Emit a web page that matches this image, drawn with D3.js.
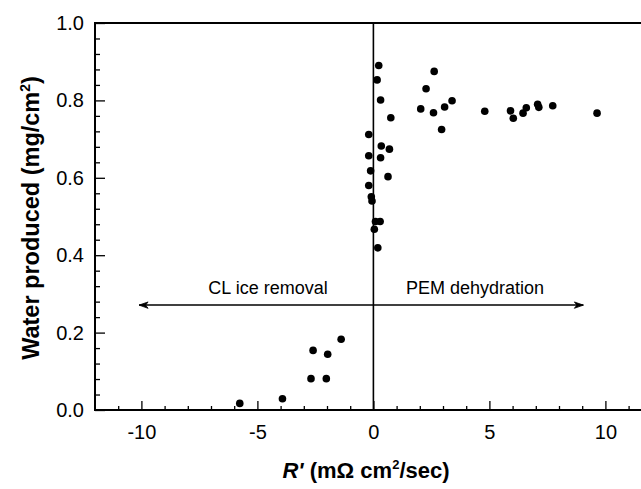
<!DOCTYPE html>
<html><head><meta charset="utf-8">
<script src="https://cdn.jsdelivr.net/npm/d3@7"></script>
<style>body{margin:0;background:#fff}svg{display:block}</style>
</head><body>
<svg id="c" width="641" height="489"></svg>
<script>
const ptsX = [0.23,0.16,0.31,0.75,-0.20,0.34,0.69,-0.20,0.31,-0.12,0.63,-0.20,-0.09,-0.06,0.09,0.29,0.04,0.19,
  2.62,2.27,3.39,3.07,2.04,2.59,2.94,4.80,5.91,6.03,6.45,6.59,7.08,7.13,7.73,9.64,
  -5.76,-3.92,-2.69,-2.03,-2.60,-1.97,-1.39];
const ptsY = [0.890,0.853,0.801,0.755,0.712,0.682,0.674,0.657,0.652,0.618,0.603,0.580,0.551,0.540,0.487,0.487,0.467,0.419,
  0.875,0.830,0.799,0.783,0.778,0.768,0.725,0.772,0.773,0.754,0.767,0.781,0.790,0.782,0.786,0.767,
  0.017,0.029,0.081,0.081,0.154,0.144,0.183];
const xMajor = [-10,-5,0,5,10];
const xMinor = [-11,-9,-8,-7,-6,-4,-3,-2,-1,1,2,3,4,6,7,8,9,11];
const yMajor = [0,0.2,0.4,0.6,0.8,1.0];
const yMinor = [0.04,0.08,0.12,0.16,0.24,0.28,0.32,0.36,0.44,0.48,0.52,0.56,0.64,0.68,0.72,0.76,0.84,0.88,0.92,0.96];
const arrowY = 0.271, arrowFrom = -10.1, arrowTo = 9.05;
const labelLeft = "CL ice removal", labelRight = "PEM dehydration";

const svg = d3.select("#c");
const x = d3.scaleLinear().domain([-12,12]).range([95,651.8]);
const y = d3.scaleLinear().domain([0,1]).range([410,23]);
const font = "'Liberation Sans', Arial, sans-serif";

// minor ticks
svg.append("g").attr("transform","translate(0,410)")
  .call(d3.axisBottom(x).tickValues(xMinor).tickSize(-4).tickFormat(""))
  .call(g=>g.select(".domain").remove())
  .selectAll("line").attr("stroke","#000").attr("stroke-width",1.3);
svg.append("g").attr("transform","translate(95,0)")
  .call(d3.axisLeft(y).tickValues(yMinor).tickSize(-5).tickFormat(""))
  .call(g=>g.select(".domain").remove())
  .selectAll("line").attr("stroke","#000").attr("stroke-width",1.3);
// major ticks
const xa = svg.append("g").attr("transform","translate(0,410)")
  .call(d3.axisBottom(x).tickValues(xMajor).tickSize(-9).tickPadding(15).tickFormat(d=>String(d)));
xa.select(".domain").remove();
xa.selectAll("line").attr("stroke","#000").attr("stroke-width",1.3);
xa.selectAll("text").attr("font-family",font).attr("font-size",20).attr("fill","#000");
const ya = svg.append("g").attr("transform","translate(95,0)")
  .call(d3.axisLeft(y).tickValues(yMajor).tickSize(-10).tickPadding(11).tickFormat(d=>d.toFixed(1)));
ya.select(".domain").remove();
ya.selectAll("line").attr("stroke","#000").attr("stroke-width",1.3);
ya.selectAll("text").attr("font-family",font).attr("font-size",20).attr("fill","#000");

// frame
svg.append("line").attr("x1",95).attr("x2",641).attr("y1",y(0)).attr("y2",y(0)).attr("stroke","#000").attr("stroke-width",2);
svg.append("line").attr("x1",95).attr("x2",641).attr("y1",y(1)).attr("y2",y(1)).attr("stroke","#000").attr("stroke-width",2);
svg.append("line").attr("x1",95).attr("x2",95).attr("y1",y(0)+1).attr("y2",y(1)-1).attr("stroke","#000").attr("stroke-width",2);

// vertical divider
svg.append("line").attr("x1",x(0)).attr("x2",x(0)).attr("y1",y(0)).attr("y2",y(1)).attr("stroke","#000").attr("stroke-width",1.6);
// arrow line
const ay = y(arrowY);
svg.append("line").attr("x1",x(arrowFrom)).attr("x2",x(arrowTo)).attr("y1",ay).attr("y2",ay).attr("stroke","#000").attr("stroke-width",1.5);
const xl = x(arrowFrom), xr = x(arrowTo);
svg.append("path").attr("d",`M${xl},${ay} L${xl+9},${ay-3.2} L${xl+6.5},${ay} L${xl+9},${ay+3.2} Z`).attr("fill","#000").attr("stroke","#000").attr("stroke-width",0.8);
svg.append("path").attr("d",`M${xr},${ay} L${xr-9},${ay-3.2} L${xr-6.5},${ay} L${xr-9},${ay+3.2} Z`).attr("fill","#000").attr("stroke","#000").attr("stroke-width",0.8);
svg.append("text").attr("x",268).attr("y",ay-11).attr("text-anchor","middle").attr("font-family",font).attr("font-size",18).text(labelLeft);
svg.append("text").attr("x",475).attr("y",ay-11).attr("text-anchor","middle").attr("font-family",font).attr("font-size",18).text(labelRight);

// points
svg.append("g").selectAll("circle").data(ptsX.map((d,i)=>[d,ptsY[i]])).join("circle")
  .attr("cx",d=>x(d[0])).attr("cy",d=>y(d[1])).attr("r",3.8).attr("fill","#000");

// axis titles
const yt = svg.append("text").attr("transform","translate(39,218) rotate(-90)").attr("text-anchor","middle")
  .attr("font-family",font).attr("font-weight","bold").attr("font-size",23.5);
yt.append("tspan").text("Water produced (mg/cm");
yt.append("tspan").attr("font-size",14).attr("dy",-9).text("2");
yt.append("tspan").attr("dy",9).text(")");
const xt = svg.append("text").attr("x",366).attr("y",478).attr("text-anchor","middle")
  .attr("font-family",font).attr("font-weight","bold").attr("font-size",22);
xt.append("tspan").attr("font-style","italic").text("R'");
xt.append("tspan").text(" (m\u03A9 cm");
xt.append("tspan").attr("font-size",13).attr("dy",-9).text("2");
xt.append("tspan").attr("dy",9).text("/sec)");
</script>
</body></html>
